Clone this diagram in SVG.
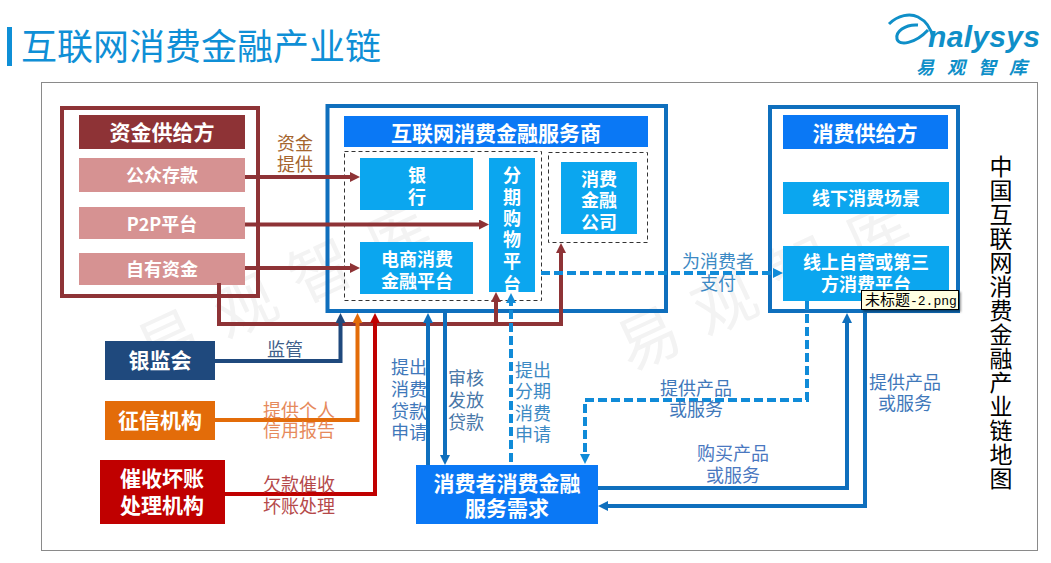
<svg xmlns="http://www.w3.org/2000/svg" width="1051" height="563" viewBox="0 0 1051 563">
<style>
text{font-family:"Noto Sans CJK SC","Liberation Sans",sans-serif}
.n{fill:#fff;font-weight:700;text-anchor:middle}
.s20{font-size:21px}.s18{font-size:18px}
.l{font-size:18px;text-anchor:middle}
.wm{font-size:62px;fill:#f3f3f3}
.c{fill:none;stroke-width:4;stroke-linejoin:miter}
.d{stroke-dasharray:9 4}
.pk{fill:#d69292}.sky{fill:#0ba6ef}.blue{fill:#0a78f5}
.frame{fill:none;stroke:#0f6fbd;stroke-width:4}
.dash{fill:none;stroke:#333;stroke-width:1;stroke-dasharray:4 3}
</style>
<defs>
<marker id="ab" markerUnits="userSpaceOnUse" markerWidth="10" markerHeight="10" viewBox="0 0 10 10" refX="5" refY="5" orient="auto"><path d="M0 0L10 5L0 10z" fill="#8e3336"/></marker>
<marker id="au" markerUnits="userSpaceOnUse" markerWidth="10" markerHeight="10" viewBox="0 0 10 10" refX="5" refY="5" orient="auto"><path d="M0 0L10 5L0 10z" fill="#0f6fbd"/></marker>
<marker id="al" markerUnits="userSpaceOnUse" markerWidth="10" markerHeight="10" viewBox="0 0 10 10" refX="5" refY="5" orient="auto"><path d="M0 0L10 5L0 10z" fill="#108bd8"/></marker>
<marker id="an" markerUnits="userSpaceOnUse" markerWidth="10" markerHeight="10" viewBox="0 0 10 10" refX="5" refY="5" orient="auto"><path d="M0 0L10 5L0 10z" fill="#1f497d"/></marker>
<marker id="ao" markerUnits="userSpaceOnUse" markerWidth="10" markerHeight="10" viewBox="0 0 10 10" refX="5" refY="5" orient="auto"><path d="M0 0L10 5L0 10z" fill="#e36c09"/></marker>
<marker id="ar" markerUnits="userSpaceOnUse" markerWidth="10" markerHeight="10" viewBox="0 0 10 10" refX="5" refY="5" orient="auto"><path d="M0 0L10 5L0 10z" fill="#c00000"/></marker>
<filter id="sh" x="-5%" y="-10%" width="115%" height="130%"><feDropShadow dx="2" dy="2" stdDeviation="1" flood-color="#000" flood-opacity=".4"/></filter>
</defs>
<rect width="1051" height="563" fill="#fff"/>
<g id="watermarks">
<text class="wm" transform="translate(150 375) rotate(-25)" letter-spacing="22">易观智库</text>
<text class="wm" transform="translate(630 372) rotate(-25)" letter-spacing="22">易观智库</text>
</g>
<g id="header">
<rect x="7" y="27" width="5" height="39" fill="#0f8fd6"/>
<text x="21" y="60" font-size="36" fill="#0f8fd6">互联网消费金融产业链</text>
<path d="M889 24C898 15 910 13 918 17C926 21 931 28 933 38M918 25C905 24 895 32 897 39C899 46 915 44 928 30" fill="none" stroke="#0f8fc8" stroke-width="3"/>
<text x="928" y="47" font-size="30" font-style="italic" font-weight="700" fill="#0f8fc8" style="font-family:'Liberation Sans',sans-serif" textLength="112">nalysys</text>
<text x="916" y="74" font-size="18" font-weight="700" font-style="italic" fill="#0f8fc8" letter-spacing="13">易观智库</text>
<rect x="41.500" y="82.500" width="996" height="468" fill="none" stroke="#8a8a8a"/>
</g>
<g id="capital-supply">
<rect x="62" y="108" width="196" height="188" fill="none" stroke="#8e3336" stroke-width="4"/>
<rect x="79" y="115" width="166" height="34" fill="#8e3336"/>
<text class="n s20" x="162" y="140">资金供给方</text>
</g>
<g id="public-deposit"><rect class="pk" x="79" y="158" width="166" height="34"/><text class="n s18" x="162" y="182">公众存款</text></g>
<g id="p2p"><rect class="pk" x="79" y="207" width="166" height="32"/><text class="n s18" x="162" y="231">P2P平台</text></g>
<g id="own-funds"><rect class="pk" x="79" y="253" width="166" height="32"/><text class="n s18" x="162" y="276">自有资金</text></g>
<g id="service-provider">
<rect class="frame" x="327.500" y="106" width="338.500" height="205"/>
<rect class="blue" x="344" y="116" width="304" height="31"/>
<text class="n s20" x="496" y="141">互联网消费金融服务商</text>
<rect class="dash" x="344.500" y="151.500" width="197" height="149"/>
<rect class="dash" x="548.500" y="152.500" width="99" height="90"/>
</g>
<g id="bank"><rect class="sky" x="360" y="158" width="113" height="52"/><text class="n s18" x="417" y="182">银</text><text class="n s18" x="417" y="204">行</text></g>
<g id="ecommerce-finance"><rect class="sky" x="360" y="242" width="113" height="52"/><text class="n s18" x="417" y="266">电商消费</text><text class="n s18" x="417" y="288">金融平台</text></g>
<g id="installment"><rect class="sky" x="489" y="158" width="46" height="134"/>
<text class="n s18" x="512" y="182">分</text><text class="n s18" x="512" y="204">期</text><text class="n s18" x="512" y="225">购</text><text class="n s18" x="512" y="246">物</text><text class="n s18" x="512" y="268">平</text><text class="n s18" x="512" y="291">台</text></g>
<g id="consumer-finance"><rect class="sky" x="561" y="162" width="76" height="72"/><text class="n s18" x="599" y="186">消费</text><text class="n s18" x="599" y="207">金融</text><text class="n s18" x="599" y="229">公司</text></g>
<g id="consumption-supply">
<rect class="frame" x="770" y="107" width="188" height="204"/>
<rect class="blue" x="783" y="115" width="165" height="34"/>
<text class="n s20" x="865" y="141">消费供给方</text>
</g>
<g id="offline"><rect class="sky" x="783" y="182" width="166" height="32"/><text class="n s18" x="866" y="205">线下消费场景</text></g>
<g id="online"><rect class="sky" x="783" y="246" width="166" height="55"/><text class="n s18" x="866" y="269">线上自营或第三</text><text class="n s18" x="866" y="291">方消费平台</text></g>
<g id="cbrc"><rect x="105" y="341" width="110" height="39" fill="#1f497d"/><text class="n s20" x="160" y="368">银监会</text></g>
<g id="credit-agency"><rect x="105" y="401" width="110" height="39" fill="#e36c09"/><text class="n s20" x="160" y="428">征信机构</text></g>
<g id="collection"><rect x="100" y="460" width="125" height="64" fill="#c00000"/><text class="n s20" x="162" y="486">催收坏账</text><text class="n s20" x="162" y="513">处理机构</text></g>
<g id="consumer-demand"><rect class="blue" x="416" y="465" width="182" height="59"/><text class="n s20" x="507" y="491">消费者消费金融</text><text class="n s20" x="507" y="516">服务需求</text></g>
<g id="connectors">
<path class="c" stroke="#8e3336" d="M245 177H355" marker-end="url(#ab)"/>
<path class="c" stroke="#8e3336" d="M245 224.500H484" marker-end="url(#ab)"/>
<path class="c" stroke="#8e3336" d="M245 268H355" marker-end="url(#ab)"/>
<path class="c" stroke="#8e3336" d="M219 283V324H561V248" marker-end="url(#ab)"/>
<path class="c" stroke="#8e3336" d="M496 324V297" marker-end="url(#ab)"/>
<path class="c" stroke="#1f497d" d="M215 361H340.500V318" marker-end="url(#an)"/>
<path class="c" stroke="#e36c09" d="M215 420H357.500V318" marker-end="url(#ao)"/>
<path class="c" stroke="#c00000" d="M225 494H375V318" marker-end="url(#ar)"/>
<path class="c" stroke="#0f6fbd" d="M428 465V318" marker-end="url(#au)"/>
<path class="c" stroke="#0f6fbd" d="M445 313V460" marker-end="url(#au)"/>
<path class="c d" stroke="#108bd8" d="M511 462V298" marker-end="url(#al)"/>
<path class="c d" stroke="#108bd8" d="M541 273H778" marker-end="url(#al)"/>
<path class="c d" stroke="#108bd8" d="M807 301V400H585V459" marker-end="url(#al)"/>
<path class="c" stroke="#0f6fbd" d="M598 488H847V318" marker-end="url(#au)"/>
<path class="c" stroke="#0f6fbd" d="M865 310V506H603" marker-end="url(#au)"/>
</g>
<g id="labels">
<g fill="#a5652f"><text class="l" x="295" y="150">资金</text><text class="l" x="295" y="171">提供</text></g>
<text class="l" x="285" y="356" fill="#3f5f8a">监管</text>
<g fill="#e68a5c"><text class="l" x="299" y="417">提供个人</text><text class="l" x="299" y="437">信用报告</text></g>
<g fill="#b5494a"><text class="l" x="299" y="491">欠款催收</text><text class="l" x="299" y="513">坏账处理</text></g>
<g fill="#3f78ba"><text class="l" x="409" y="374">提出</text><text class="l" x="409" y="396">消费</text><text class="l" x="409" y="418">贷款</text><text class="l" x="409" y="439">申请</text></g>
<g fill="#4a78a8"><text class="l" x="466" y="385">审核</text><text class="l" x="466" y="407">发放</text><text class="l" x="466" y="429">贷款</text></g>
<g fill="#3d8ac4"><text class="l" x="533" y="377">提出</text><text class="l" x="533" y="398">分期</text><text class="l" x="533" y="420">消费</text><text class="l" x="533" y="441">申请</text></g>
<g fill="#3d8ac4"><text class="l" x="718" y="268">为消费者</text><text class="l" x="718" y="290">支付</text></g>
<g fill="#3f78ba"><text class="l" x="696" y="395">提供产品</text><text class="l" x="696" y="416">或服务</text></g>
<g fill="#4a78c0"><text class="l" x="733" y="460">购买产品</text><text class="l" x="733" y="482">或服务</text></g>
<g fill="#3f78ba"><text class="l" x="905" y="389">提供产品</text><text class="l" x="905" y="410">或服务</text></g>
<g id="side-title" font-size="23" text-anchor="middle" fill="#000">
<text x="1001" y="175">中</text><text x="1001" y="199">国</text><text x="1001" y="223">互</text><text x="1001" y="247">联</text><text x="1001" y="271">网</text><text x="1001" y="295">消</text><text x="1001" y="319">费</text><text x="1001" y="343">金</text><text x="1001" y="367">融</text><text x="1001" y="391">产</text><text x="1001" y="415">业</text><text x="1001" y="439">链</text><text x="1001" y="463">地</text><text x="1001" y="487">图</text>
</g>
</g>
<g id="tooltip">
<rect x="861.500" y="290.500" width="97" height="19" fill="#ffffe1" stroke="#000" filter="url(#sh)"/>
<text x="865" y="305" font-size="15" fill="#000">未标题<tspan style="font-family:'Liberation Mono',monospace" font-size="13">-2.png</tspan></text>
</g>
</svg>
